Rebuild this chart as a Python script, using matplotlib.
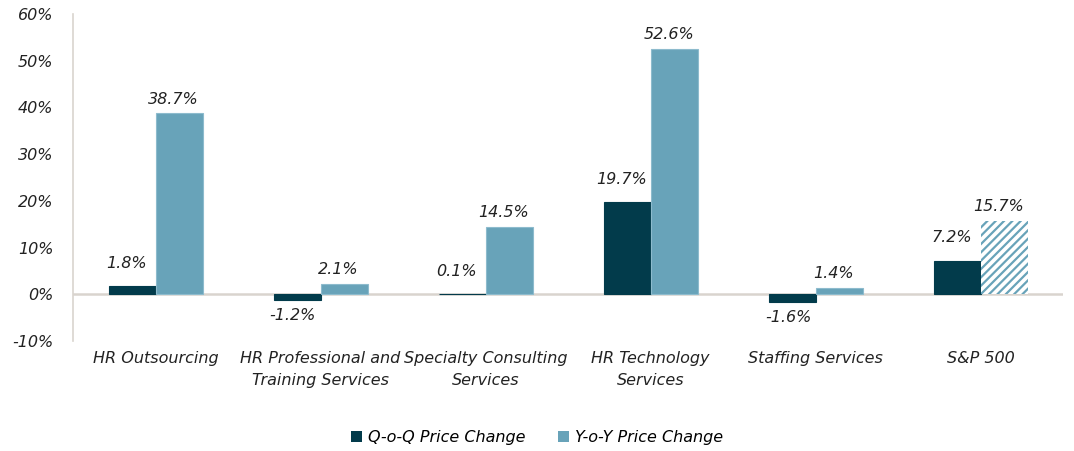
import matplotlib
matplotlib.use("Agg")
import matplotlib.pyplot as plt
import numpy as np
from matplotlib.patches import Patch

categories = ["HR Outsourcing", "HR Professional and\nTraining Services", "Specialty Consulting\nServices",
              "HR Technology\nServices", "Staffing Services", "S&P 500"]
qoq = [1.8, -1.2, 0.1, 19.7, -1.6, 7.2]
yoy = [38.7, 2.1, 14.5, 52.6, 1.4, 15.7]
series_names = ["Q-o-Q Price Change", "Y-o-Y Price Change"]

dark = "#023B4B"
light = "#68A3B9"
axis_col = "#D9D4CE"

plt.rcParams['font.family'] = ['DejaVu Sans']
plt.rcParams['hatch.linewidth'] = 1.6
fig = plt.figure(figsize=(10.74, 4.51), dpi=100)
ax = fig.add_axes([0.068, 0.244, 0.922, 0.725])

x = np.arange(len(categories))
w = 0.285
bq = ax.bar(x - w/2, qoq, w, color=dark, edgecolor=dark, linewidth=0.8, zorder=2)
by = ax.bar(x + w/2, yoy, w, color=light, edgecolor="#8DBBCD", linewidth=0.8, zorder=2)
# S&P hatched
last = by[-1]
last.set_facecolor("white")
last.set_edgecolor(light)
last.set_hatch("////")
last.set_linewidth(0)

fs = 11.5
tc = "#222222"
for i, v in enumerate(qoq):
    if v >= 0:
        ax.annotate(f"{v:.1f}%", (x[i] - w/2, v), xytext=(-4, 11), textcoords="offset points",
                    ha="center", va="bottom", fontsize=fs, style="italic", color=tc)
    else:
        ax.annotate(f"{v:.1f}%", (x[i] - w/2, v), xytext=(-3, -6), textcoords="offset points",
                    ha="center", va="top", fontsize=fs, style="italic", color=tc)
for i, v in enumerate(yoy):
    ax.annotate(f"{v:.1f}%", (x[i] + w/2, v), xytext=(-4, 5), textcoords="offset points",
                ha="center", va="bottom", fontsize=fs, style="italic", color=tc)

ax.set_ylim(-10, 60)
ax.set_xlim(-0.5, len(categories) - 0.5)
ax.set_yticks(range(-10, 61, 10))
ax.set_yticklabels([f"{t}%" for t in range(-10, 61, 10)], fontsize=fs, style="italic", color=tc)
ax.tick_params(axis="y", length=0, pad=14)
ax.set_xticks(x)
ax.set_xticklabels(categories, fontsize=fs, style="italic", color=tc, linespacing=1.6)
ax.tick_params(axis="x", length=0, pad=7)
for s in ["top", "right", "bottom"]:
    ax.spines[s].set_visible(False)
ax.spines["left"].set_color(axis_col)
ax.spines["left"].set_linewidth(1.2)
ax.axhline(0, color=axis_col, linewidth=1.8, zorder=1)

handles = [Patch(facecolor=dark), Patch(facecolor=light)]
fig.legend(handles, series_names, loc="center", bbox_to_anchor=(0.5, 0.03), ncol=2, frameon=False,
           handlelength=0.7, handleheight=0.7, handletextpad=0.4, columnspacing=2.0,
           prop={"size": fs, "style": "italic"})

fig.savefig("out.png", dpi=100)
